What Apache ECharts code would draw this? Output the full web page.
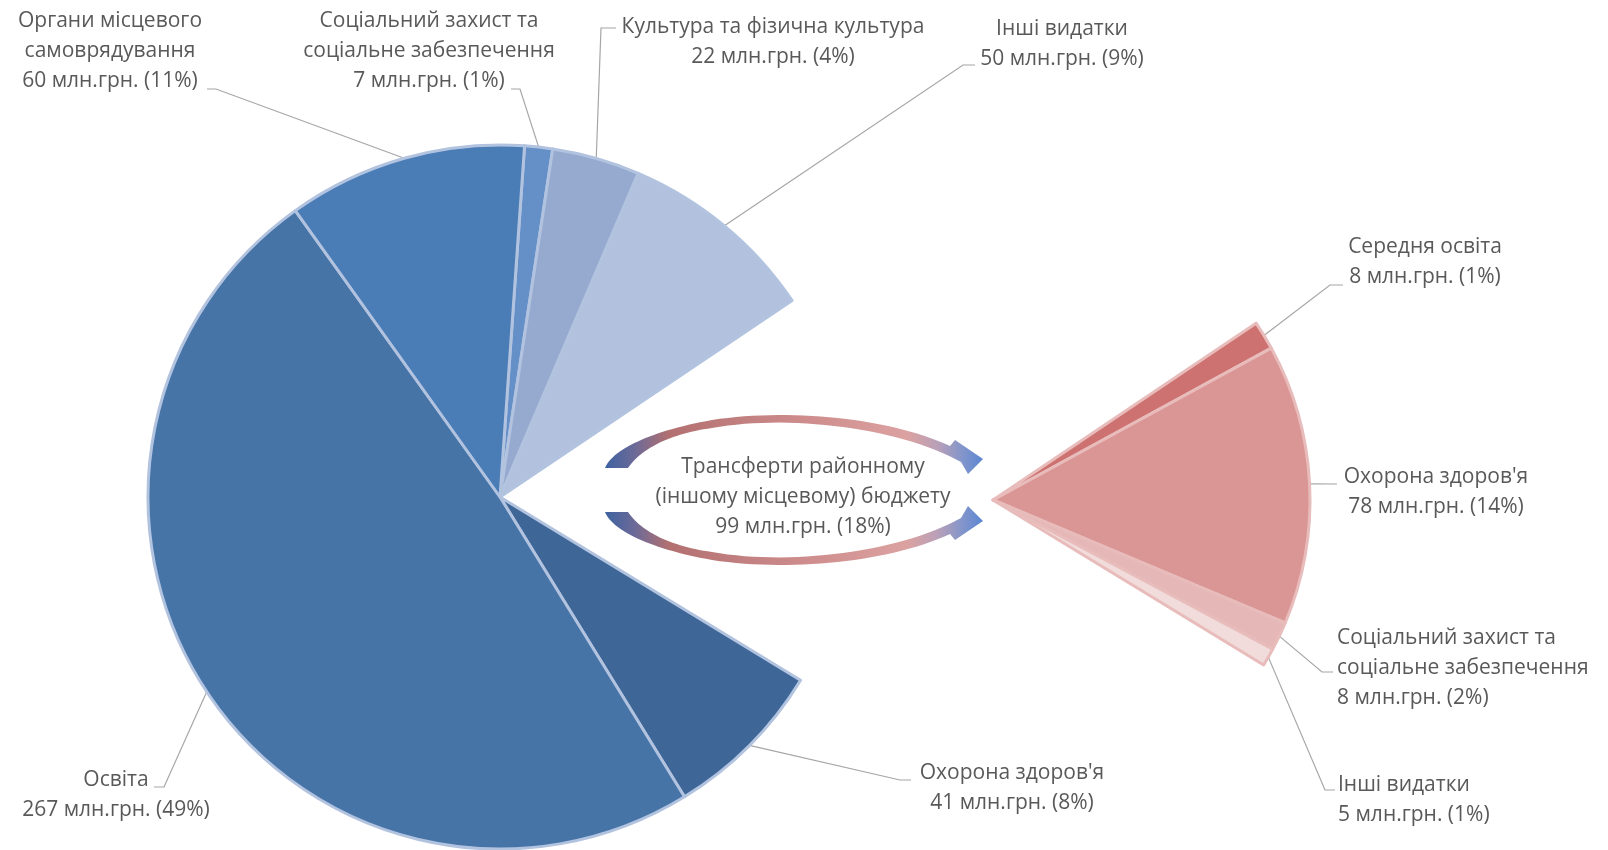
<!DOCTYPE html>
<html>
<head>
<meta charset="utf-8">
<script src="https://cdn.jsdelivr.net/npm/echarts@6/dist/echarts.min.js"></script>
<style>
html,body{margin:0;padding:0;background:#ffffff;}
#chart{width:1608px;height:850px;}
</style>
</head>
<body>
<div id="chart"></div>
<script>
// ---------- DATA ----------
const leftNames = [
  'Соціальний захист та\nсоціальне забезпечення',
  'Культура та фізична культура',
  'Інші видатки',
  'Трансферти районному\n(іншому місцевому) бюджету',
  "Охорона здоров'я",
  'Освіта',
  'Органи місцевого\nсамоврядування'
];
const leftValues = [7, 22, 50, 99, 41, 267, 60];
const leftPct = [1, 4, 9, 18, 8, 49, 11];
const transferIndex = 3;

const rightNames = [
  'Середня освіта',
  "Охорона здоров'я",
  'Соціальний захист та\nсоціальне забезпечення',
  'Інші видатки'
];
const rightValues = [8, 78, 8, 5];
const rightPct = [1, 14, 2, 1];
const unit = 'млн.грн.';

// ---------- STYLE / LAYOUT ----------
const leftColors = ['#658fc7', '#96aad0', '#b2c1dd', 'rgba(0,0,0,0)', '#3e6696', '#4674a7', '#4a7cb6'];
const rightColors = ['#cd7270', '#da9595', '#e5b8b7', '#f1dcdb'];
const L = {cx: 500, cy: 497, r: 352, start: 86};
const R = {cx: 993, cy: 500, r: 317};

const leftLabelLayout = [
  {x: 429, y: 51, align: 'center', line: [[520, 89], [511, 89]]},
  {x: 773, y: 42, align: 'center', line: [[601, 28], [616, 28]]},
  {x: 1062, y: 44, align: 'center', line: [[963, 65], [975, 65]]},
  {x: 803, y: 497, align: 'center', line: null},
  {x: 1012, y: 788, align: 'center', line: [[900, 780], [911, 780]]},
  {x: 116, y: 795, align: 'center', line: [[164, 787], [154, 787]]},
  {x: 110, y: 51, align: 'center', line: [[216, 89], [207, 89]]}
];
const rightLabelLayout = [
  {x: 1425, y: 262, align: 'center', line: [[1330, 285], [1343, 285]]},
  {x: 1436, y: 492, align: 'center', line: [[1337, 484]]},
  {x: 1337, y: 668, align: 'left', line: [[1322, 672], [1333, 672]]},
  {x: 1338, y: 800, align: 'left', line: [[1325, 790], [1335, 790]]}
];

const sum = a => a.reduce((s, v) => s + v, 0);
const total = sum(leftValues);
const beforeTransfer = sum(leftValues.slice(0, transferIndex));
const rightStart = L.start - beforeTransfer / total * 360;
const rightRest = total - sum(rightValues);

function arcPoint(c, start, values, idx, tot) {
  const cum = sum(values.slice(0, idx)) + values[idx] / 2;
  const a = (start - cum / tot * 360) * Math.PI / 180;
  return [c.cx + c.r * Math.cos(a), c.cy - c.r * Math.sin(a)];
}

const textStyle = {color: '#595959', fontSize: 21, fontFamily: 'Open Sans', lineHeight: 30};

const leftData = leftNames.map((n, i) => {
  const d = {name: n, value: leftValues[i], itemStyle: {color: leftColors[i]}};
  if (i === transferIndex) {
    d.itemStyle.borderWidth = 0;
    d.labelLine = {show: false};
  }
  return d;
});
const rightData = rightNames.map((n, i) => ({name: n, value: rightValues[i], itemStyle: {color: rightColors[i]}}));
rightData.push({name: '', value: rightRest, itemStyle: {color: 'rgba(0,0,0,0)', borderWidth: 0}, label: {show: false}, labelLine: {show: false}});
const rightAll = rightData.map(d => d.value);

// ---------- curved arrows (decoration) ----------
const arrowSegs = [
  ['M', 605, 468],
  ['C', 612, 450, 650, 431, 712, 420],
  ['C', 790, 408, 890, 418, 950, 446],
  ['L', 955, 440], ['L', 983, 459], ['L', 968, 474], ['L', 961, 462],
  ['C', 900, 428, 790, 414, 712, 428],
  ['C', 668, 434, 640, 450, 628, 468]
];
function samplePath(segs, flipAbout) {
  const pts = [];
  let cur = null;
  const fy = y => flipAbout == null ? y : flipAbout - y;
  segs.forEach(s => {
    if (s[0] === 'M' || s[0] === 'L') { cur = [s[1], s[2]]; pts.push([cur[0], fy(cur[1])]); }
    else {
      const [, ax, ay, bx, by, ex, ey] = s;
      for (let k = 1; k <= 30; k++) {
        const t = k / 30, u = 1 - t;
        const x = u*u*u*cur[0] + 3*u*u*t*ax + 3*u*t*t*bx + t*t*t*ex;
        const y = u*u*u*cur[1] + 3*u*u*t*ay + 3*u*t*t*by + t*t*t*ey;
        pts.push([x, fy(y)]);
      }
      cur = [ex, ey];
    }
  });
  return pts;
}
const arrowFill = {
  type: 'linear', x: 0, y: 0, x2: 1, y2: 0,
  colorStops: [
    {offset: 0, color: '#3d62a0'},
    {offset: 0.08, color: '#6d6a98'},
    {offset: 0.17, color: '#b27070'},
    {offset: 0.5, color: '#cd8a8a'},
    {offset: 0.8, color: '#dba2a1'},
    {offset: 0.88, color: '#b9a0b8'},
    {offset: 0.95, color: '#7f94cc'},
    {offset: 1, color: '#5b86d2'}
  ]
};

const chart = echarts.init(document.getElementById('chart'), null, {renderer: 'canvas'});
chart.setOption({
  animation: false,
  backgroundColor: '#ffffff',
  graphic: [
    {type: 'polygon', shape: {points: samplePath(arrowSegs, null)}, style: {fill: arrowFill}, z: 1, silent: true},
    {type: 'polygon', shape: {points: samplePath(arrowSegs, 980)}, style: {fill: arrowFill}, z: 1, silent: true}
  ],
  series: [
    {
      type: 'pie',
      center: [L.cx, L.cy],
      radius: [0, L.r],
      startAngle: L.start,
      clockwise: true,
      avoidLabelOverlap: false,
      silent: true,
      emphasis: {disabled: true},
      itemStyle: {borderColor: '#b2c3e0', borderWidth: 3},
      label: Object.assign({
        show: true, position: 'outside',
        formatter: p => p.name + '\n' + p.value + ' ' + unit + ' (' + leftPct[p.dataIndex] + '%)'
      }, textStyle),
      labelLine: {show: true, length: 10, length2: 10, lineStyle: {color: '#a6a6a6', width: 1.2}},
      labelLayout: function (p) {
        const o = leftLabelLayout[p.dataIndex];
        if (!o) return {};
        const res = {x: o.x, y: o.y, align: o.align, verticalAlign: 'middle'};
        if (o.line) res.labelLinePoints = [arcPoint(L, L.start, leftValues, p.dataIndex, total)].concat(o.line);
        return res;
      },
      data: leftData
    },
    {
      type: 'pie',
      center: [R.cx, R.cy],
      radius: [0, R.r],
      startAngle: rightStart,
      clockwise: true,
      avoidLabelOverlap: false,
      silent: true,
      emphasis: {disabled: true},
      itemStyle: {borderColor: '#e8bcbb', borderWidth: 3},
      label: Object.assign({
        show: true, position: 'outside',
        formatter: p => p.name + '\n' + p.value + ' ' + unit + ' (' + rightPct[p.dataIndex] + '%)'
      }, textStyle),
      labelLine: {show: true, length: 10, length2: 10, lineStyle: {color: '#a6a6a6', width: 1.2}},
      labelLayout: function (p) {
        const o = rightLabelLayout[p.dataIndex];
        if (!o) return {};
        const res = {x: o.x, y: o.y, align: o.align, verticalAlign: 'middle'};
        if (o.line) res.labelLinePoints = [arcPoint(R, rightStart, rightAll, p.dataIndex, total)].concat(o.line);
        return res;
      },
      data: rightData
    }
  ]
});
</script>
</body>
</html>
